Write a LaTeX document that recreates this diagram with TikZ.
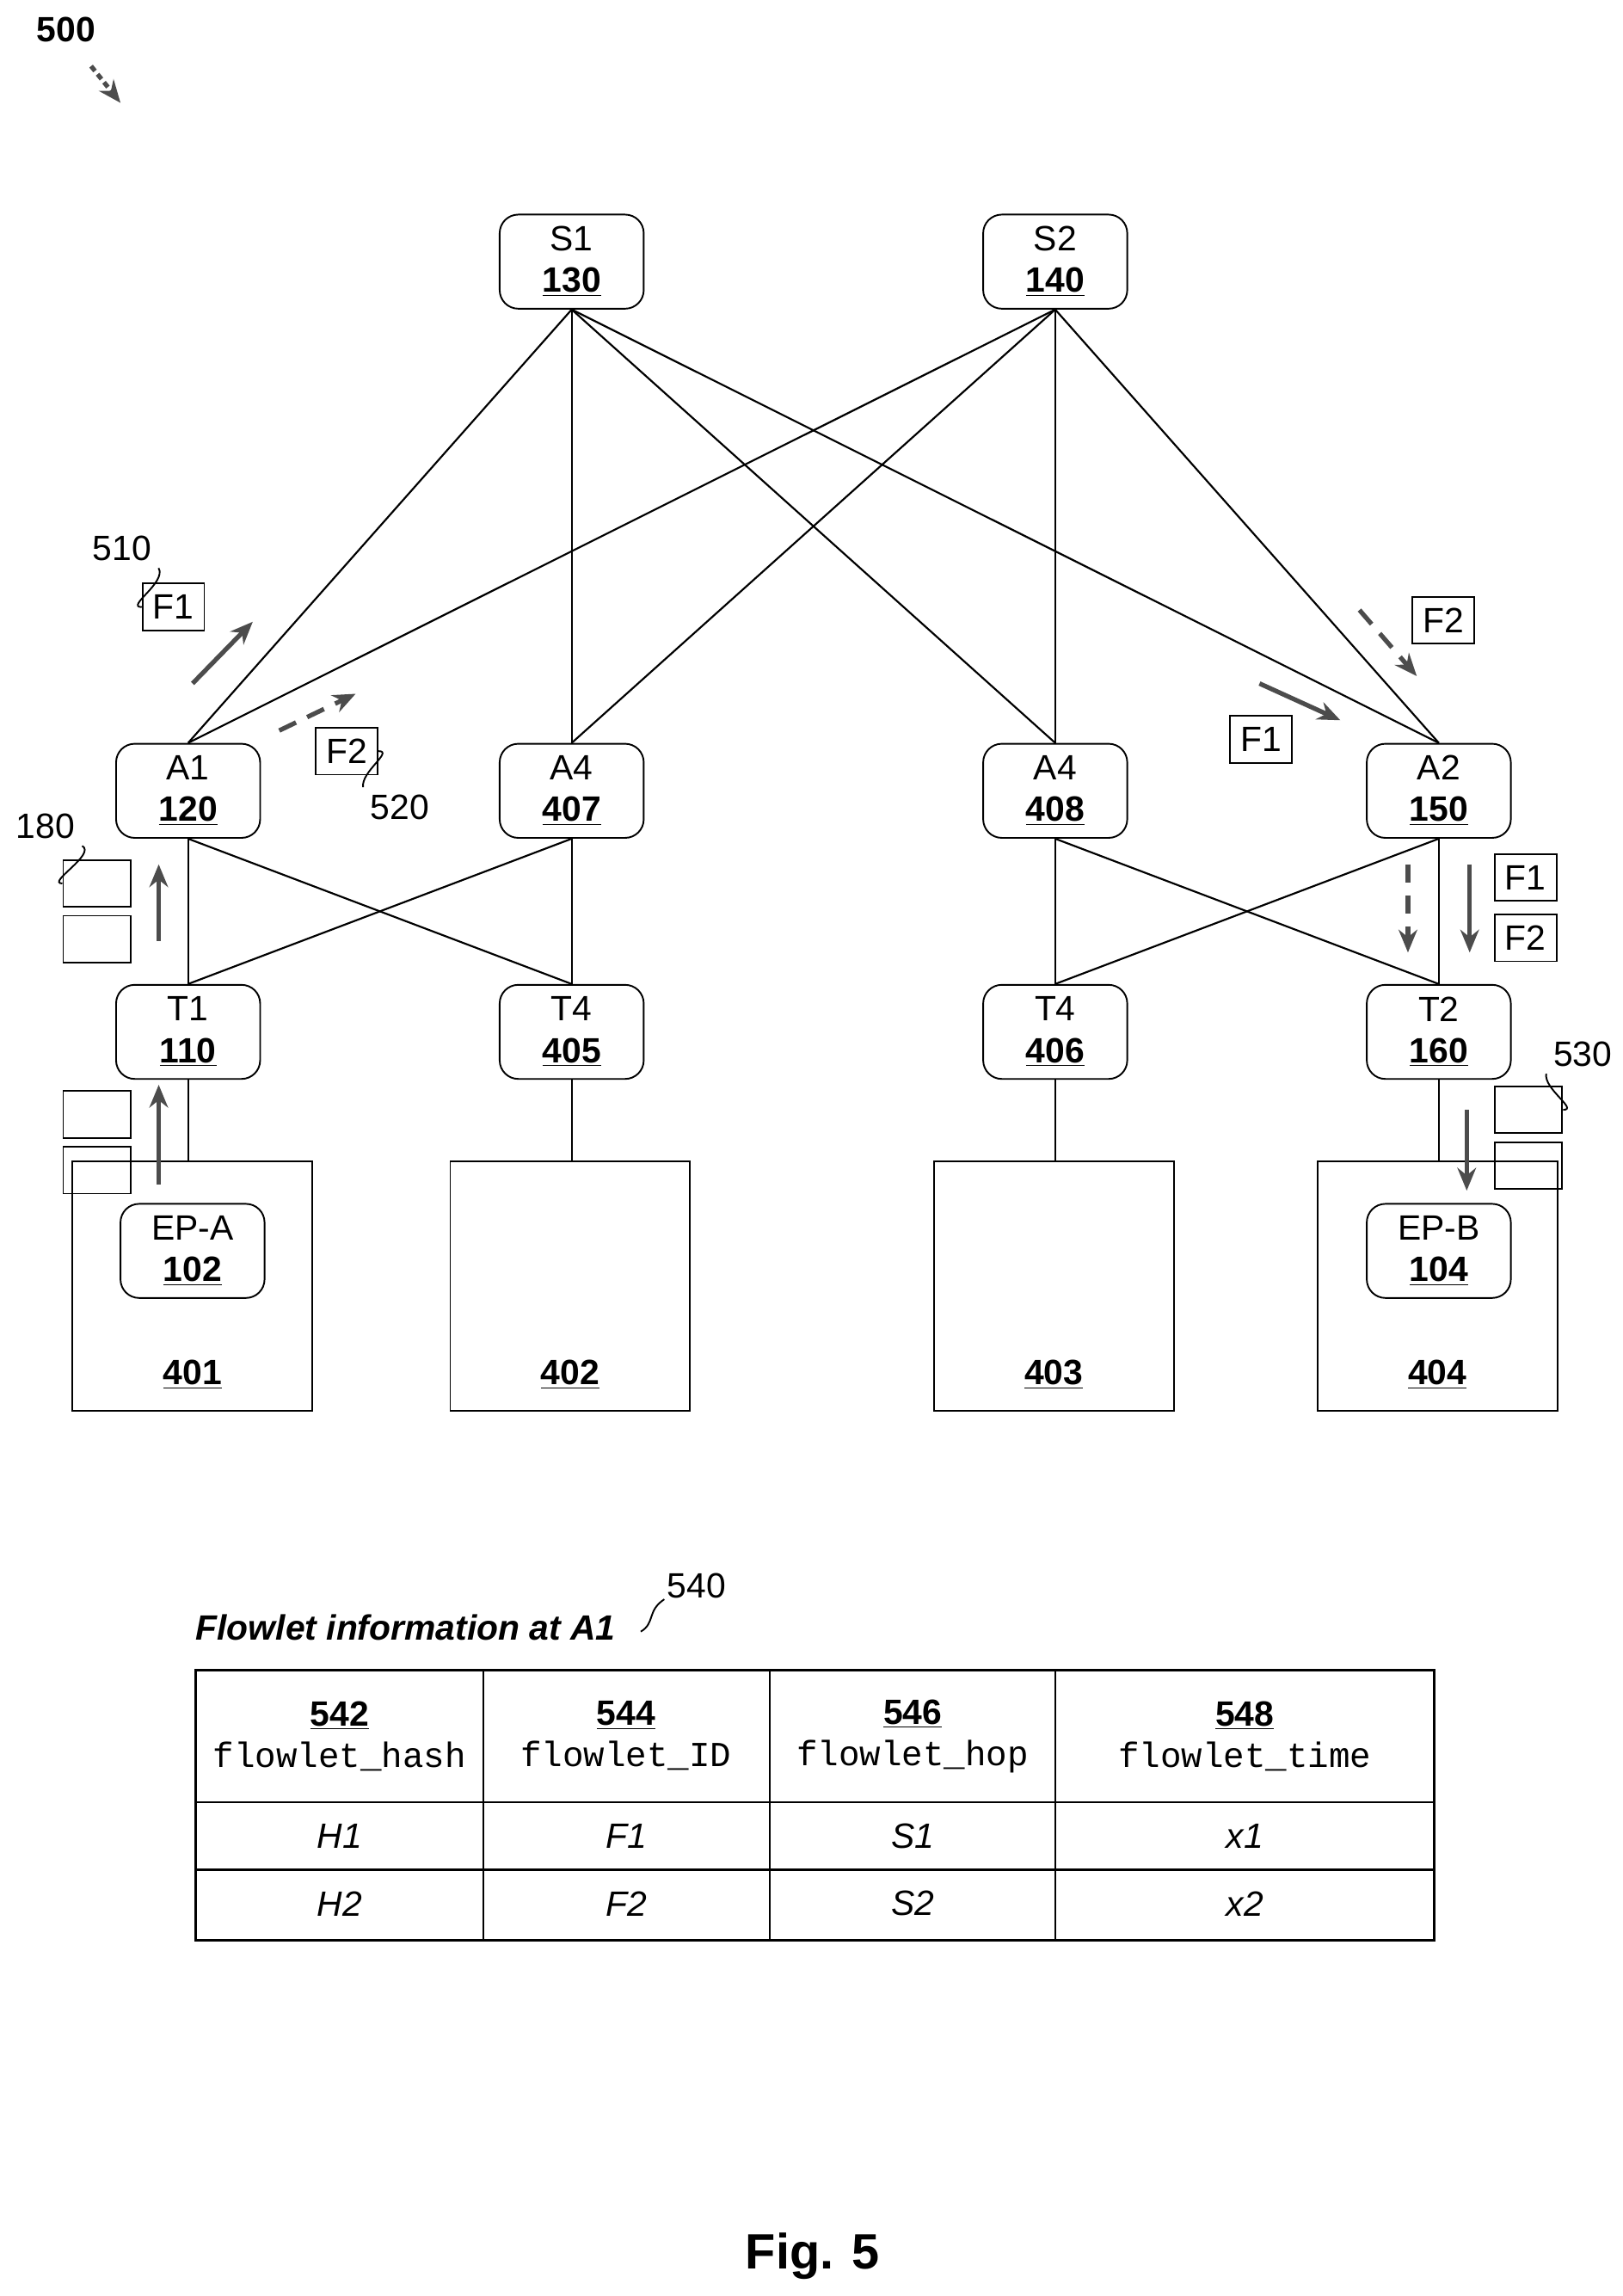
\documentclass[tikz,border=0pt]{standalone}
\usepackage{fontspec}
\setmainfont{Liberation Sans}
\setmonofont{Liberation Mono}
\usetikzlibrary{arrows.meta,decorations.pathmorphing}
\newcommand{\nb}[1]{\underline{\textbf{#1}}}
\begin{document}
\begin{tikzpicture}[x=0.025cm,y=-0.025cm,
 every node/.style={font=\fontsize{17}{20}\selectfont},
 dev/.style={draw,thick,rounded corners=9pt,minimum width=2.45cm,minimum height=1.6cm,align=center,inner sep=0pt},
 ep/.style={dev},
 rack/.style={draw,thick,minimum width=4.08cm,minimum height=4.25cm},
 lnk/.style={line width=0.9pt},
 fl/.style={draw,thick,minimum width=1.05cm,minimum height=0.8cm,inner sep=1pt},
 pk/.style={draw,thick,minimum width=1.15cm,minimum height=0.8cm},
 ar/.style={line width=2.2pt,gray!60!black,-{Stealth[length=11pt,width=9pt]}},
 dar/.style={ar,dash pattern=on 9pt off 6pt}]
\useasboundingbox (0,0) rectangle (1104,1562);
\node[dev] (S1) at (389,178) {S1\\\nb{130}};
\node[dev] (S2) at (718,178) {S2\\\nb{140}};
\node[dev] (A1) at (128,538) {A1\\\nb{120}};
\node[dev] (A407) at (389,538) {A4\\\nb{407}};
\node[dev] (A408) at (718,538) {A4\\\nb{408}};
\node[dev] (A2) at (979,538) {A2\\\nb{150}};
\node[dev] (T1) at (128,702) {T1\\\nb{110}};
\node[dev] (T405) at (389,702) {T4\\\nb{405}};
\node[dev] (T406) at (718,702) {T4\\\nb{406}};
\node[dev] (T2) at (979,702) {T2\\\nb{160}};
\node[rack] (R401) at (131,875) {};
\node[rack] (R402) at (388,875) {};
\node[rack] (R403) at (717,875) {};
\node[rack] (R404) at (978,875) {};
\node at (131,935) {\nb{401}};
\node at (388,935) {\nb{402}};
\node at (717,935) {\nb{403}};
\node at (978,935) {\nb{404}};
\node[ep] (EPA) at (131,851) {EP-A\\\nb{102}};
\node[ep] (EPB) at (979,851) {EP-B\\\nb{104}};
\foreach \a in {A1,A407,A408,A2}{
 \draw[lnk] (S1.south) -- (\a.north);
 \draw[lnk] (S2.south) -- (\a.north);}
\draw[lnk] (A1.south) -- (T1.north);
\draw[lnk] (A1.south) -- (T405.north);
\draw[lnk] (A407.south) -- (T1.north);
\draw[lnk] (A407.south) -- (T405.north);
\draw[lnk] (A408.south) -- (T406.north);
\draw[lnk] (A408.south) -- (T2.north);
\draw[lnk] (A2.south) -- (T406.north);
\draw[lnk] (A2.south) -- (T2.north);
\draw[lnk] (T1.south) -- (R401.north-|T1);
\draw[lnk] (T405.south) -- (R402.north-|T405);
\draw[lnk] (T406.south) -- (R403.north-|T406);
\draw[lnk] (T2.south) -- (R404.north-|T2);
\node (L500) at (45,20) {\textbf{500}};
\coordinate (p500a) at (62,45); \coordinate (p500b) at (82,70);
\draw[ar,dash pattern=on 3pt off 2pt] (p500a) -- (p500b);
\coordinate (a1s) at (131,465); \coordinate (a1e) at (172,423);
\draw[ar] (a1s) -- (a1e);
\node[fl] (F1a) at (118,413) {F1};
\node (L510) at (83,373) {510};
\draw[thick] (F1a.west) to[out=180,in=-60] (L510.south east);
\coordinate (a2s) at (190,497); \coordinate (a2e) at (242,472);
\draw[dar] (a2s) -- (a2e);
\node[fl] (F2a) at (236,511) {F2};
\node (L520) at (272,549) {520};
\draw[thick] (F2a.east) to[out=0,in=100] (L520.north west);
\coordinate (a3s) at (925,415); \coordinate (a3e) at (964,460);
\draw[dar] (a3s) -- (a3e);
\node[fl] (F2b) at (982,422) {F2};
\coordinate (a4s) at (857,465); \coordinate (a4e) at (912,490);
\draw[ar] (a4s) -- (a4e);
\node[fl] (F1b) at (858,503) {F1};
\coordinate (a5s) at (958,588); \coordinate (a5e) at (958,648);
\draw[dar] (a5s) -- (a5e);
\coordinate (a6s) at (1000,588); \coordinate (a6e) at (1000,648);
\draw[ar] (a6s) -- (a6e);
\node[fl] (F1c) at (1038,597) {F1};
\node[fl] (F2c) at (1038,638) {F2};
\coordinate (a7s) at (108,640); \coordinate (a7e) at (108,588);
\draw[ar] (a7s) -- (a7e);
\node[pk] (P1) at (66,601) {};
\node[pk] (P2) at (66,639) {};
\node (L180) at (31,562) {180};
\draw[thick] (L180.south east) to[out=-30,in=180] (P1.west);
\coordinate (a8s) at (108,806); \coordinate (a8e) at (108,738);
\draw[ar] (a8s) -- (a8e);
\node[pk] (P3) at (66,758) {};
\node[pk] (P4) at (66,796) {};
\coordinate (a9s) at (998,755); \coordinate (a9e) at (998,810);
\draw[ar] (a9s) -- (a9e);
\node[pk] (P5) at (1040,755) {};
\node[pk] (P6) at (1040,793) {};
\node (L530) at (1077,717) {530};
\draw[thick] (P5.east) to[out=0,in=-100] (L530.south west);
\node[font=\fontsize{17}{20}\selectfont\bfseries\itshape] (TT) at (276,1107) {Flowlet information at A1};
\node (L540) at (474,1079) {540};
\coordinate (sq1) at (436,1110); \coordinate (sq2) at (452,1088);
\draw[thick] (sq1) .. controls (446,1104) and (440,1096) .. (sq2);
\draw[line width=1.2pt] (133,1136) rectangle (976,1320);
\draw[lnk] (133,1226) -- (976,1226);
\draw[lnk] (133,1272) -- (976,1272);
\foreach \x in {329,524,718} \draw[lnk] (\x,1136) -- (\x,1320);
\node[align=center] (c1) at (231,1181) {\nb{542}\\\texttt{flowlet\_hash}};
\node[align=center] (c2) at (426,1181) {\nb{544}\\\texttt{flowlet\_ID}};
\node[align=center] (c3) at (621,1181) {\nb{546}\\\texttt{flowlet\_hop}};
\node[align=center] (c4) at (847,1181) {\nb{548}\\\texttt{flowlet\_time}};
\node (r11) at (231,1249) {\itshape H1};
\node (r12) at (426,1249) {\itshape F1};
\node (r13) at (621,1249) {\itshape S1};
\node (r14) at (847,1249) {\itshape x1};
\node (r21) at (231,1295) {\itshape H2};
\node (r22) at (426,1295) {\itshape F2};
\node (r23) at (621,1295) {\itshape S2};
\node (r24) at (847,1295) {\itshape x2};
\node[font=\fontsize{24}{28}\selectfont\bfseries] (fig) at (553,1535) {Fig. 5};
\end{tikzpicture}
\end{document}
